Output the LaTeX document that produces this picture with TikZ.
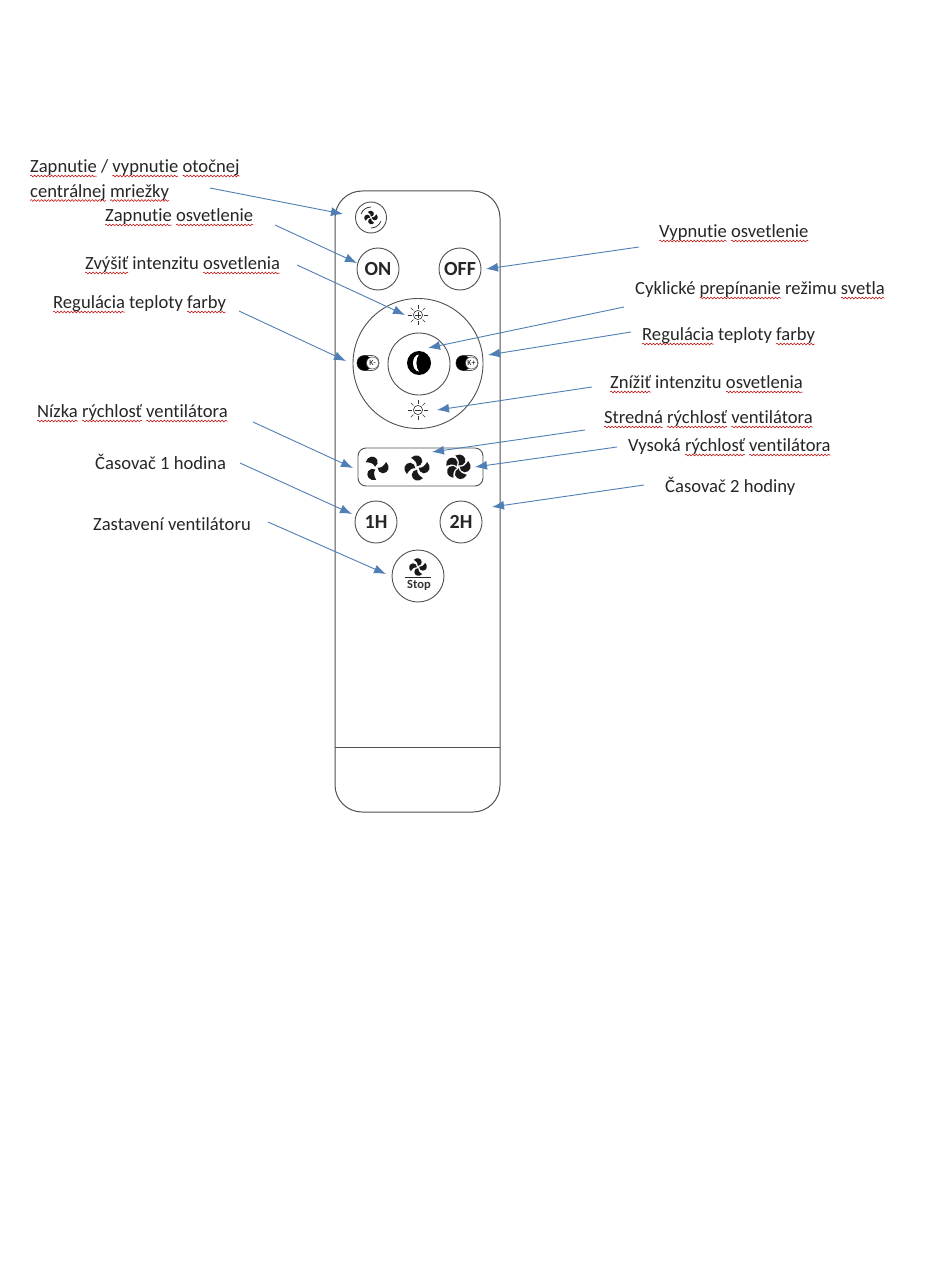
\documentclass[tikz,border=0pt]{standalone}
\usepackage{fontspec}
\setmainfont{Carlito}[Ligatures=NoCommon]
\usetikzlibrary{arrows.meta,decorations.pathmorphing}
\definecolor{arrowblue}{HTML}{4F7FB5}
\definecolor{remoteline}{HTML}{505050}
\newcommand\sq[1]{\setbox0=\hbox{#1}\tikz[baseline=0pt,x=1pt,y=1pt]{\path[use as bounding box] (0,0) rectangle (\wd0,\ht0);\node[anchor=base west,inner sep=0pt,outer sep=0pt] at (0,0) {\copy0};\draw[red!75!black,line width=0.5pt,decorate,decoration={snake,amplitude=0.9pt,segment length=3.4pt}] (0,-3.5pt) -- (\wd0,-3.5pt);}}
\tikzset{
  lab/.style={anchor=base west,inner sep=0pt,font=\fontsize{18.6pt}{24.5pt}\selectfont,text=black!85,align=left},
  callout/.style={arrowblue,line width=0.9pt,-{Latex[length=12pt,width=9pt]}},
  shell/.style={draw=remoteline,line width=1pt},
  btn/.style={circle,draw=remoteline,line width=0.9pt,inner sep=0pt,fill=white},
  btntxt/.style={font=\fontsize{20pt}{20pt}\selectfont\bfseries,text=black!85},
}
\newcommand\fanicon[4]{% x y scale blades
  \foreach \k in {1,...,#4}{\pgfmathsetmacro\rr{360/#4*\k+20}%
  \fill[black!90,shift={(#1,#2)},rotate=\rr,scale=#3] (1.2,0.2) .. controls (3.2,1.4) and (5.6,0.8) .. (8.6,-1.6) .. controls (10.6,3) and (7.2,6.6) .. (3.4,5.4) .. controls (1.4,4.6) and (0.4,2.2) .. (1.2,0.2) -- cycle;}}
\newcommand\sunicon[3]{% x y sign
  \begin{scope}[shift={(#1,#2)},black!80,line width=0.6pt]
  \draw (0,0) circle (4.6);
  \foreach \a in {0,45,...,315} \draw[rotate=\a] (6.4,0) -- (10.2,0);
  \draw (-2.6,0) -- (2.6,0);
  #3
  \end{scope}}
\begin{document}
\begin{tikzpicture}[x=1pt,y=-1pt]
\useasboundingbox[fill=white] (0,0) rectangle (950,1276);
% remote
\draw[shell,rounded corners=27pt] (335,191) rectangle (500,812);
\coordinate (shL) at (335,747); \coordinate (shR) at (500,747);
\draw[shell] (shL) -- (shR);
% buttons
\node[btn,minimum size=31pt] (rot) at (371,217.5) {};
\node[btn,minimum size=42pt,btntxt] (on) at (378,269) {ON};
\node[btn,minimum size=42pt,btntxt] (off) at (460,269) {OFF};
\node[btn,minimum size=130pt] (ring) at (418,363.5) {};
\node[btn,minimum size=62pt] (hub) at (419,364) {};
\node[btn,minimum size=42pt,btntxt] (h1) at (376,522) {1H};
\node[btn,minimum size=42pt,btntxt] (h2) at (461,522) {2H};
\node[btn,minimum size=52pt] (stop) at (418,576) {};
\node[draw=remoteline,line width=0.9pt,rounded corners=8pt,minimum width=125pt,minimum height=38pt,inner sep=0pt] (panel) at (420.5,467) {};
% rotation icon
\fanicon{371}{217.5}{0.72}{4}
\begin{scope}[shift={(371,217.5)}]
\draw[black!80,line width=0.8pt] (0,0) ++(200:10.5) arc (200:270:10.5);
\draw[black!80,line width=0.8pt] (0,0) ++(20:10.5) arc (20:90:10.5);
\end{scope}
% sun icons
\sunicon{418}{315}{\draw (0,-2.6) -- (0,2.6);}
\sunicon{418}{410}{}
% centre icon
\fill[black] (419,363) circle (12);
\fill[white] (419,354.5) .. controls (411,355) and (411,371) .. (419,371.5) .. controls (415.5,368) and (415.5,358) .. (419,354.5) -- cycle;
% toggles
\node[draw=black!70,line width=0.6pt,rounded corners=7pt,minimum width=22pt,minimum height=15pt,inner sep=0pt] (tk1) at (368,363) {};
\fill[black] (364.5,363) circle (7.5);
\node[circle,draw=black!70,fill=white,line width=0.5pt,inner sep=0pt,minimum size=12pt,font=\fontsize{8pt}{8pt}\selectfont] (km) at (372.5,363) {K-};
\node[draw=black!70,line width=0.6pt,rounded corners=7pt,minimum width=22pt,minimum height=15pt,inner sep=0pt] (tk2) at (467,363) {};
\fill[black] (463.5,363) circle (7.5);
\node[circle,draw=black!70,fill=white,line width=0.5pt,inner sep=0pt,minimum size=12pt,font=\fontsize{8pt}{8pt}\selectfont] (kp) at (471.5,363) {K+};
% fans
\fanicon{376}{468}{1.35}{3}
\fanicon{417}{468}{1.35}{4}
\fanicon{458}{467}{1.35}{5}
\fanicon{418}{567}{0.95}{4}
\coordinate (sL) at (405,577); \coordinate (sR) at (431,577);
\draw[black!85,line width=1pt] (sL) -- (sR);
\node[font=\fontsize{12.5pt}{12.5pt}\selectfont\bfseries,text=black!80,inner sep=0pt] (stoptxt) at (419,585) {Stop};
% labels
\node[lab] (l1) at (30,197) {\sq{Zapnutie} / \sq{vypnutie} \sq{otočnej}\\\sq{centrálnej} \sq{mriežky}};
\node[lab] (l2) at (105,221.5) {\sq{Zapnutie} \sq{osvetlenie}};
\node[lab] (l3) at (85,269.5) {\sq{Zvýšiť} intenzitu \sq{osvetlenia}};
\node[lab] (l4) at (53,308.5) {\sq{Regulácia} teploty \sq{farby}};
\node[lab] (l5) at (37,417.5) {\sq{Nízka} \sq{rýchlosť} \sq{ventilátora}};
\node[lab] (l6) at (95,469.5) {Časovač 1 hodina};
\node[lab] (l7) at (93,530.5) {Zastavení ventilátoru};
\node[lab] (r1) at (659,237.5) {\sq{Vypnutie} \sq{osvetlenie}};
\node[lab] (r2) at (635,294.5) {Cyklické \sq{prepínanie} režimu \sq{svetla}};
\node[lab] (r3) at (642,340.5) {\sq{Regulácia} teploty \sq{farby}};
\node[lab] (r4) at (610,388.5) {\sq{Znížiť} intenzitu \sq{osvetlenia}};
\node[lab] (r5) at (604,423.5) {\sq{Stredná} \sq{rýchlosť} \sq{ventilátora}};
\node[lab] (r6) at (628,451.5) {Vysoká \sq{rýchlosť} \sq{ventilátora}};
\node[lab] (r7) at (665,492.5) {Časovač 2 hodiny};
% connector ends
\foreach \n/\ax/\ay/\bx/\by in {
 a/210/188/343/214, b/275/225/357/263, c/297/265/405/315, d/239/311/346/361,
 e/639/247/486/269, f/624/307/428/348, g/631/332/488/355, h/592/387/437/410,
 i/253/422/353/468, j/585/430/432/452, k/617/447/475/467, m/240/463/352/514,
 n/644/485/492/507, o/268/522/386/574}{
  \coordinate (\n s) at (\ax,\ay);
  \coordinate (\n t) at (\bx,\by);
  \draw[callout] (\n s) -- (\n t);
}
\end{tikzpicture}
\end{document}
